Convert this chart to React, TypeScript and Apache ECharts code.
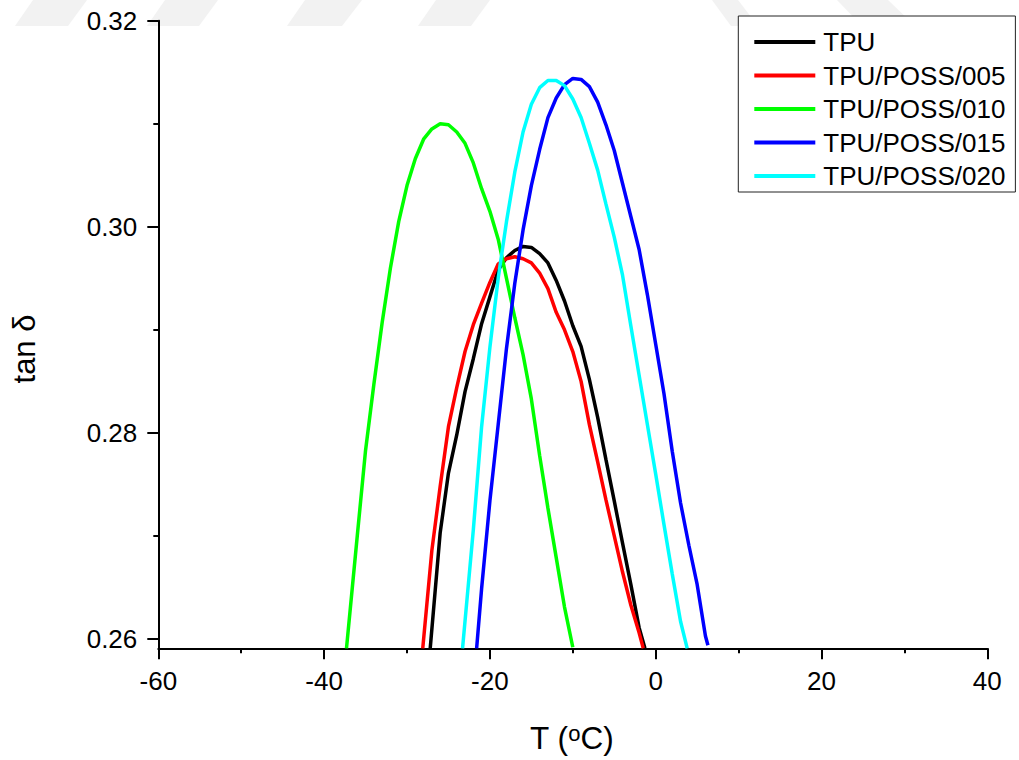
import React, { useEffect, useRef } from "react";
import * as echarts from "echarts";

// ---- data (T in °C, tan δ) ----
const seriesNames = ["TPU", "TPU/POSS/005", "TPU/POSS/010", "TPU/POSS/015", "TPU/POSS/020"];
const seriesColors = ["#000000", "#ff0000", "#00ff00", "#0000ff", "#00ffff"];

const tpu: [number, number][] = [
  [-27.2, 0.2591], [-26, 0.2703], [-25, 0.2761], [-24, 0.2798], [-23, 0.2840], [-22, 0.2872],
  [-21, 0.2906], [-20, 0.2932], [-19, 0.2958], [-18, 0.2970], [-17, 0.2977], [-16, 0.2981],
  [-15, 0.2980], [-14, 0.2974], [-13, 0.2965], [-12, 0.2948], [-11, 0.2928], [-10, 0.2904],
  [-9, 0.2884], [-8, 0.2852], [-7, 0.2815], [-6, 0.2774], [-5, 0.2734], [-4, 0.2693],
  [-3, 0.2653], [-2, 0.2611], [-1.3, 0.2591],
];
const poss005: [number, number][] = [
  [-28.1, 0.2591], [-27, 0.2686], [-26, 0.2748], [-25, 0.2806], [-24, 0.2844], [-23, 0.2879],
  [-22, 0.2905], [-21, 0.2926], [-20, 0.2946], [-19, 0.2964], [-18, 0.2969], [-17, 0.2971],
  [-16, 0.2969], [-15, 0.2965], [-14, 0.2955], [-13, 0.2940], [-12, 0.2917], [-11, 0.2900],
  [-10, 0.2879], [-9, 0.2850], [-8, 0.2808], [-7, 0.2772], [-6, 0.2735], [-5, 0.2700],
  [-4, 0.2665], [-3, 0.2633], [-2, 0.2606], [-1.5, 0.2591],
];
const poss010: [number, number][] = [
  [-37.3, 0.2591], [-36, 0.2700], [-35, 0.2783], [-34, 0.2847], [-33, 0.2907], [-32, 0.2960],
  [-31, 0.3005], [-30, 0.3040], [-29, 0.3066], [-28, 0.3085], [-27, 0.3095], [-26, 0.3100],
  [-25, 0.3099], [-24, 0.3092], [-23, 0.3081], [-22, 0.3062], [-21, 0.3037], [-20, 0.3015],
  [-19, 0.2988], [-18, 0.2950], [-17, 0.2912], [-16, 0.2876], [-15, 0.2833], [-14, 0.2778],
  [-13, 0.2727], [-12, 0.2679], [-11, 0.2631], [-10, 0.2592],
];
const poss015: [number, number][] = [
  [-21.6, 0.2591], [-21, 0.2649], [-20, 0.2734], [-19, 0.2808], [-18, 0.2882], [-17, 0.2945],
  [-16, 0.2997], [-15, 0.3040], [-14, 0.3075], [-13, 0.3106], [-12, 0.3125], [-11, 0.3138],
  [-10, 0.3144], [-9, 0.3143], [-8, 0.3136], [-7, 0.3121], [-6, 0.3099], [-5, 0.3074],
  [-4, 0.3042], [-3, 0.3010], [-2, 0.2978], [-1, 0.2934], [0, 0.2886], [1, 0.2838],
  [2, 0.2782], [3, 0.2732], [4, 0.2691], [5, 0.2653], [6, 0.2603], [6.3, 0.2594],
];
const poss020: [number, number][] = [
  [-23.3, 0.2591], [-22, 0.2706], [-21, 0.2806], [-20, 0.2883], [-19, 0.2950], [-18, 0.3005],
  [-17, 0.3053], [-16, 0.3092], [-15, 0.3119], [-14, 0.3135], [-13, 0.3142], [-12, 0.3142],
  [-11, 0.3137], [-10, 0.3124], [-9, 0.3106], [-8, 0.3081], [-7, 0.3055], [-6, 0.3022],
  [-5, 0.2990], [-4, 0.2953], [-3, 0.2904], [-2, 0.2856], [-1, 0.2808], [0, 0.2760],
  [1, 0.2711], [2, 0.2663], [3, 0.2617], [3.8, 0.2591],
];
const seriesData = [tpu, poss005, poss010, poss015, poss020];

const xMin = -60;
const xMax = 40;
const xInterval = 20;
const yMin = 0.2591;
const yMax = 0.32;
const yMajorTicks = [0.26, 0.28, 0.3, 0.32];
const yMinorTicks = [0.27, 0.29, 0.31];

const FONT = '"Liberation Sans", Arial, sans-serif';

const watermark: number[][][] = [
  [[33, 0], [87, 0], [68, 26], [15, 26]],
  [[165, 0], [218, 0], [199, 26], [147, 26]],
  [[305, 0], [362, 0], [342, 26], [287, 26]],
  [[436, 0], [490, 0], [471, 26], [418, 26]],
  [[712, 0], [738, 0], [758, 26], [731, 26]],
  [[837, 0], [888, 0], [915, 26], [862, 26]],
];

export default function App() {
  const ref = useRef<HTMLDivElement>(null);
  useEffect(() => {
    if (!ref.current) return;
    const chart = echarts.init(ref.current, undefined, { renderer: "svg" });
    const axisStyle = { color: "#000", width: 2 };
    const option: any = {
      animation: false,
      backgroundColor: "#ffffff",
      grid: { left: 158.3, right: 31.7, top: 20.7, bottom: 111.7, containLabel: false },
      xAxis: {
        type: "value",
        min: xMin,
        max: xMax,
        interval: xInterval,
        axisLine: { show: true, onZero: false, lineStyle: axisStyle },
        axisTick: { show: true, inside: false, length: 11, lineStyle: axisStyle },
        minorTick: { show: true, splitNumber: 2, length: 5, lineStyle: axisStyle },
        splitLine: { show: false },
        axisLabel: { color: "#000", fontSize: 26, fontFamily: FONT, margin: 20 },
      },
      yAxis: [
        {
          type: "value",
          min: yMin,
          max: yMax,
          position: "left",
          axisLine: { show: true, onZero: false, lineStyle: axisStyle },
          axisTick: { show: true, inside: false, length: 11, lineStyle: axisStyle, customValues: yMajorTicks },
          splitLine: { show: false },
          axisLabel: {
            color: "#000",
            fontSize: 26,
            fontFamily: FONT,
            margin: 21,
            customValues: yMajorTicks,
            formatter: (v: number) => v.toFixed(2),
          },
        },
        {
          type: "value",
          min: yMin,
          max: yMax,
          position: "left",
          axisLine: { show: false, onZero: false },
          axisTick: { show: true, inside: false, length: 5, lineStyle: axisStyle, customValues: yMinorTicks },
          splitLine: { show: false },
          axisLabel: { show: false },
        },
      ],
      legend: {
        orient: "vertical",
        left: 738.3,
        top: 16,
        padding: [13, 10, 3, 16],
        itemGap: 7.5,
        itemWidth: 61,
        itemHeight: 4,
        icon: "rect",
        borderColor: "#222",
        borderWidth: 1,
        backgroundColor: "#ffffff",
        data: seriesNames,
        textStyle: { color: "#000", fontSize: 26, fontFamily: FONT, lineHeight: 26, padding: [0, 0, 0, 3] },
      },
      graphic: [
        ...watermark.map((pts) => ({
          type: "polygon",
          silent: true,
          z: -10,
          shape: { points: pts },
          style: { fill: "#f2f2f2" },
        })),
        {
          type: "text",
          x: 24.6,
          y: 349,
          rotation: Math.PI / 2,
          style: {
            text: "tan δ",
            fill: "#000",
            fontSize: 31,
            fontFamily: FONT,
            align: "center",
            verticalAlign: "middle",
          },
        },
        {
          type: "text",
          x: 571.7,
          y: 738,
          style: {
            text: "T ({sup|o}C)",
            fill: "#000",
            fontSize: 31.5,
            fontFamily: FONT,
            lineHeight: 32,
            align: "center",
            verticalAlign: "middle",
            rich: {
              sup: { fontSize: 22, lineHeight: 16, fontFamily: FONT, fill: "#000", verticalAlign: "top" },
            },
          },
        },
      ],
      series: seriesNames.map((name, i) => ({
        name,
        type: "line",
        data: seriesData[i],
        showSymbol: false,
        symbol: "none",
        color: seriesColors[i],
        lineStyle: { color: seriesColors[i], width: 3.5 },
        emphasis: { disabled: true },
      })),
    };
    chart.setOption(option);
    return () => chart.dispose();
  }, []);
  return (
    <div
      ref={ref}
      style={{ position: "fixed", left: 0, top: 0, width: 1019, height: 760, background: "#fff" }}
    />
  );
}
